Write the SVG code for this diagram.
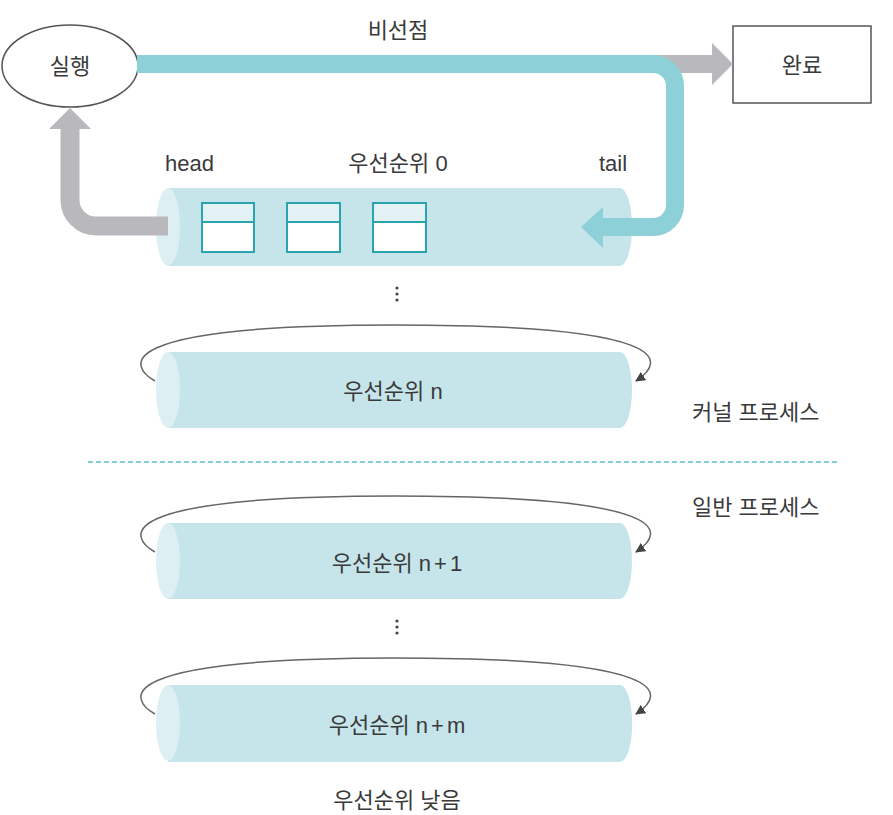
<svg xmlns="http://www.w3.org/2000/svg" width="893" height="815" viewBox="0 0 893 815">
<defs>
<style>
text{font-family:"Liberation Sans","Noto Sans CJK KR",sans-serif;font-size:22px;fill:#3a3a3a}
.c{text-anchor:middle}
.body{fill:#c6e5ea}
.cap{fill:#ddeff2}
.loop{fill:none;stroke:#666;stroke-width:1.5;marker-end:url(#ah)}
.box{fill:#fff;stroke:#2aa3ae;stroke-width:2}
.boxtop{fill:#e2f2f4}
</style>
<marker id="ah" viewBox="0 0 10 10" refX="9" refY="5" markerWidth="10" markerHeight="10" markerUnits="userSpaceOnUse" orient="auto"><path d="M0,0 L10,5 L0,10 Z" fill="#444"/></marker>
</defs>
<rect width="893" height="815" fill="#fff"/>

<g id="node-run">
<ellipse cx="70" cy="66" rx="68" ry="41" fill="#fff" stroke="#555" stroke-width="1.5"/>
<text class="c" x="70" y="74">실행</text>
</g>

<g id="node-done">
<rect x="733" y="26" width="138" height="77" fill="#fff" stroke="#555" stroke-width="1.5"/>
<text class="c" x="802" y="73">완료</text>
</g>

<text class="c" x="398" y="38">비선점</text>

<g id="node-queue0">
<path class="body" d="M168,188 H620 A12,39 0 0 1 620,266 H168 Z"/>
<ellipse class="cap" cx="168" cy="227" rx="12" ry="39"/>
<rect class="box" x="202" y="203" width="52" height="49"/>
<rect class="boxtop" x="203" y="204" width="50" height="18"/>
<line x1="202" y1="222" x2="254" y2="222" stroke="#2aa3ae" stroke-width="2"/>
<rect class="box" x="287" y="203" width="53" height="49"/>
<rect class="boxtop" x="288" y="204" width="51" height="18"/>
<line x1="287" y1="222" x2="340" y2="222" stroke="#2aa3ae" stroke-width="2"/>
<rect class="box" x="373" y="203" width="53" height="49"/>
<rect class="boxtop" x="374" y="204" width="51" height="18"/>
<line x1="373" y1="222" x2="426" y2="222" stroke="#2aa3ae" stroke-width="2"/>
<text x="165" y="171" font-size="24">head</text>
<text class="c" x="398" y="171">우선순위 0</text>
<text x="599" y="171" font-size="23">tail</text>
</g>

<g fill="#444">
<circle cx="397" cy="288" r="1.6"/><circle cx="397" cy="294" r="1.6"/><circle cx="397" cy="300" r="1.6"/>
<circle cx="397" cy="621" r="1.6"/><circle cx="397" cy="627" r="1.6"/><circle cx="397" cy="633" r="1.6"/>
</g>

<g id="node-queuen">
<path class="loop" d="M155,381 C130,367 105,325 395,325 C670,325 668,360 636,381"/>
<path class="body" d="M168,352 H620 A12,38 0 0 1 620,428 H168 Z"/>
<ellipse class="cap" cx="168" cy="390" rx="12" ry="38"/>
<text class="c" x="393" y="399">우선순위 n</text>
</g>

<text x="692" y="420">커널 프로세스</text>
<text x="692" y="515">일반 프로세스</text>

<g id="node-queuen1">
<path class="loop" d="M155,552 C130,538 105,496 395,496 C670,496 668,531 636,552"/>
<path class="body" d="M168,523 H620 A12,38 0 0 1 620,599 H168 Z"/>
<ellipse class="cap" cx="168" cy="561" rx="12" ry="38"/>
<text class="c" x="397" y="571">우선순위 <tspan letter-spacing="3">n+</tspan>1</text>
</g>

<g id="node-queuenm">
<path class="loop" d="M155,714 C130,700 105,658 395,658 C670,658 668,693 636,714"/>
<path class="body" d="M168,685 H620 A12,38 0 0 1 620,762 H168 Z"/>
<ellipse class="cap" cx="168" cy="723" rx="12" ry="38"/>
<text class="c" x="397" y="733">우선순위 <tspan letter-spacing="3">n+</tspan>m</text>
</g>

<text class="c" x="397" y="808">우선순위 낮음</text>

<g id="connectors">
<path d="M655,64 H714" stroke="#b9b9bd" stroke-width="18" fill="none"/>
<polygon points="712,43 733,64 712,85" fill="#b9b9bd"/>
<path d="M137,64 H653 A22,22 0 0 1 675,86 V205 A22,22 0 0 1 653,227 H600" stroke="#8dd0d8" stroke-width="18" fill="none"/>
<polygon points="581,227 603,207 603,248" fill="#8dd0d8"/>
<path d="M168,226 H96 A26,26 0 0 1 70,200 V126" stroke="#b9b9bd" stroke-width="19" fill="none"/>
<polygon points="70,108 91,129 49,129" fill="#b9b9bd"/>
<line x1="88" y1="462" x2="840" y2="462" stroke="#5bbfca" stroke-width="1.5" stroke-dasharray="5 3"/>
</g>
</svg>
